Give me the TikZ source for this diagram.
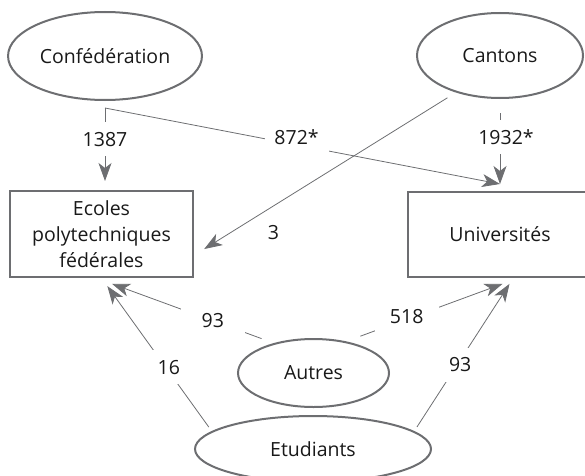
\documentclass[tikz,border=0pt]{standalone}
\usepackage{fontspec}
\setmainfont{Open Sans}
\usetikzlibrary{shapes.geometric,arrows.meta,positioning}
\definecolor{linegray}{RGB}{109,110,113}

\begin{document}
\begin{tikzpicture}[x=1pt, y=1pt, font=\fontsize{19.5}{26}\selectfont, text=black!90,
    box/.style={draw=linegray, line width=2pt, align=center},
    oval/.style={ellipse, draw=linegray, line width=2pt},
    flow/.style={draw=linegray, line width=0.8pt, -{Stealth[length=18pt, width=13pt, inset=5pt]}},
    num/.style={fill=white, minimum width=64pt, minimum height=34pt, inner sep=0pt}]
    \useasboundingbox (0,0) rectangle (585,475);

    \node[oval, minimum width=168pt, minimum height=88pt] (conf) at (105,419) {Confédération};
    \node[oval, minimum width=166pt, minimum height=85pt] (cant) at (500,419.5) {Cantons};
    \node[box, minimum width=183pt, minimum height=86pt] (epf) at (101.5,241) {Ecoles\\polytechniques\\fédérales};
    \node[box, minimum width=184pt, minimum height=85pt] (uni) at (500,240.5) {Universités};
    \node[oval, minimum width=151pt, minimum height=68pt] (autres) at (313.5,102) {Autres};
    \node[oval, minimum width=236pt, minimum height=66pt] (etud) at (313,26) {Etudiants};

    \coordinate[below=7pt of conf] (confout);
    \coordinate[above=7pt of uni] (uniin); % les deux fleches se rejoignent ici

    % financement
    \draw[flow, shorten >=9pt] (confout) -- node[num, pos=0.38] {1387} (confout |- epf.north);
    \draw[flow] (confout) -- node[num, pos=0.485, yshift=8pt] {872*} (uniin);
    \draw[flow, shorten <=14pt] (cant) -- node[num, pos=0.445, xshift=6pt] {1932*} (uniin);
    \draw[flow, shorten <=10pt, shorten >=12pt] (cant.220) -- node[pos=0.697, yshift=-26.5pt] {3} (epf.347);

    % autres sources et etudiants
    \draw[flow, shorten <=13pt, shorten >=17pt] (autres.143) -- node[num, pos=0.343] {93} (epf.263);
    \draw[flow, shorten <=15pt, shorten >=17pt] (autres.44) -- node[num, pos=0.351, yshift=3pt] {518} (uni.293);
    \draw[flow, shorten <=5pt, shorten >=10pt] (etud.170) -- node[num, pos=0.417, xshift=3pt] {16} (epf.south);
    \draw[flow, shorten <=5pt, shorten >=7pt] (etud.10) -- node[num, pos=0.433, xshift=3pt] {93} (uni.287);
\end{tikzpicture}
\end{document}
